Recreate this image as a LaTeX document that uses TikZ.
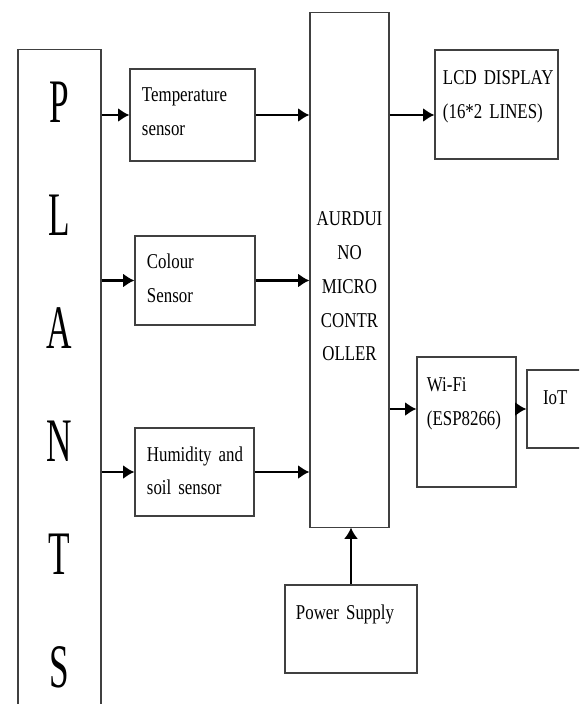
\documentclass[tikz,border=0pt]{standalone}
\usepackage{fontspec}
\setmainfont[FakeStretch=0.8]{Liberation Serif}
\newfontfamily\plantsfont[FakeStretch=0.57]{Liberation Serif}
\usetikzlibrary{shapes,arrows.meta,positioning}
\hyphenpenalty=10000
\exhyphenpenalty=10000

\begin{document}
\begin{tikzpicture}[x=0.025cm, y=-0.025cm,
    blk/.style={rectangle, draw=black!75, line width=0.8pt, align=left, font=\fontsize{15}{24}\selectfont, text height=10pt},
    arr/.style={-{Latex[length=8pt,width=10pt]}, line width=2pt}]
    \clip (0,0) rectangle (579,704);
    \fill[white] (0,0) rectangle (579,704);

    \node (plants) [rectangle, draw=black!75, line width=0.8pt, minimum width=2.075cm, minimum height=16.75cm, align=center, font=\plantsfont\fontsize{44}{80.4}\selectfont] at (59.5,385) {P\\L\\A\\N\\T\\S};

    \node (temp) [blk, minimum width=3.125cm, minimum height=2.3cm, text width=2.525cm, inner xsep=0.3cm, text depth=28.5pt] at (192.5,115) {Temperature\\sensor};
    \node (colour) [blk, minimum width=3cm, minimum height=2.225cm, text width=2.4cm, inner xsep=0.3cm, text depth=26.4pt] at (195,280.5) {Colour\\Sensor};
    \node (humid) [blk, minimum width=2.975cm, minimum height=2.2cm, text width=2.375cm, inner xsep=0.3cm, text depth=25.6pt] at (194.5,472) {Humidity~and\\soil~sensor};

    \node (mc) [blk, align=center, minimum width=1.975cm, minimum height=12.85cm, text width=1.775cm, inner xsep=0.1cm, text depth=72.6pt] at (349.5,270) {AURDUI\\NO\\MICRO\\CONTR\\OLLER};

    \node (lcd) [blk, minimum width=3.075cm, minimum height=2.725cm, text width=2.675cm, inner xsep=0.2cm, text depth=38pt] at (496.5,104.5) {LCD~DISPLAY\\(16*2~LINES)};
    \node (wifi) [blk, minimum width=2.475cm, minimum height=3.25cm, text width=1.975cm, inner xsep=0.25cm, text depth=52.7pt] at (466.5,422) {Wi-Fi\\(ESP8266)};
    \node (iot) [blk, minimum width=1.825cm, minimum height=1.95cm, text width=1.025cm, inner xsep=0.4cm, text depth=17.1pt] at (563.5,409) {IoT};
    \node (power) [blk, minimum width=3.3cm, minimum height=2.2cm, text width=2.75cm, inner xsep=0.275cm, text depth=24.2pt] at (351,629) {Power~Supply};

    \draw[arr] (plants.east |- temp) -- (temp);
    \draw[arr] (plants.east |- colour) -- (colour);
    \draw[arr] (plants.east |- humid) -- (humid);
    \draw[arr] (temp) -- (mc.west |- temp);
    \draw[arr] (colour) -- (mc.west |- colour);
    \draw[arr] (humid) -- (mc.west |- humid);
    \draw[arr] (mc.east |- temp) -- (lcd.west |- temp);
    \draw[arr] (mc.east |- iot) -- (wifi.west |- iot);
    \draw[arr] (wifi.east |- iot) -- (iot.west);
    \draw[arr, line width=1.4pt] (power.north) -- (power.north |- mc.south);
\end{tikzpicture}
\end{document}
